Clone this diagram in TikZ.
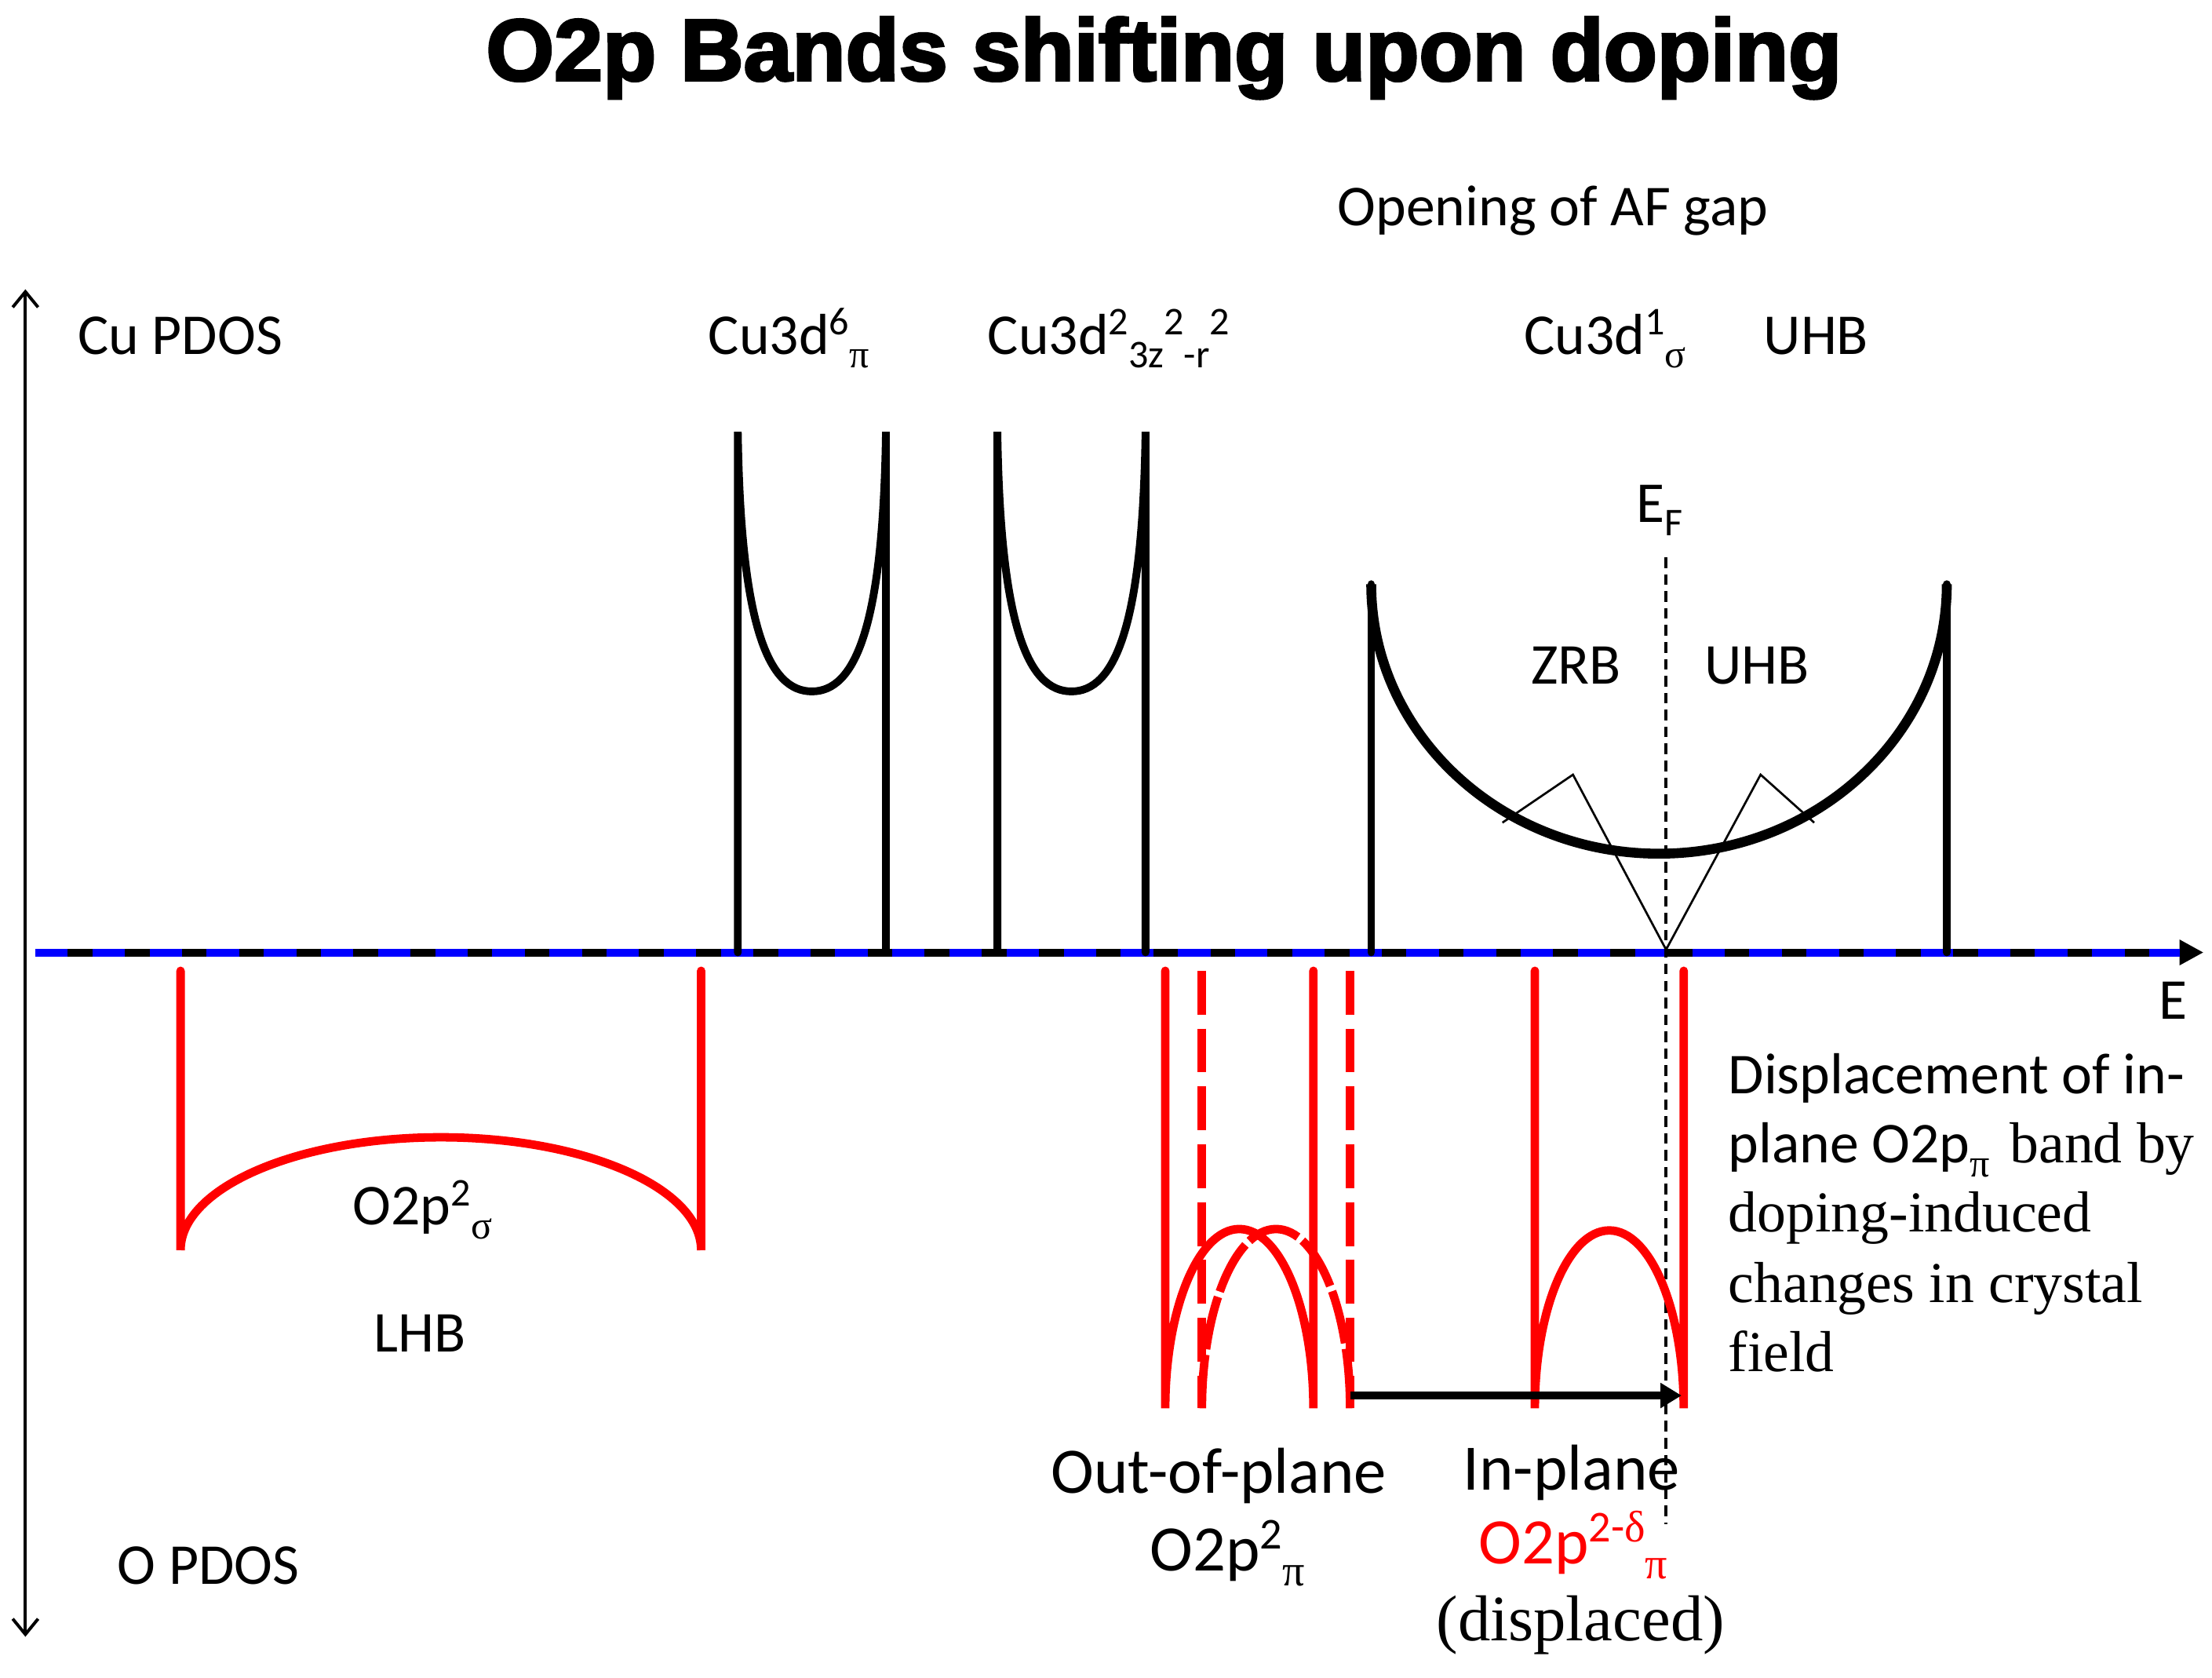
\documentclass[tikz,border=0pt]{standalone}
\usepackage{fontspec}
\setmainfont{Carlito}
\newfontfamily\tnr{Liberation Serif}
\newfontfamily\blackfont{Liberation Sans Bold}[FakeBold=3]
\usetikzlibrary{arrows.meta}
\makeatletter
\newcommand{\hi}[1]{\raisebox{0.33em}{\fontsize{\fpeval{0.68*\f@size}}{0}\selectfont #1}}
\newcommand{\lo}[1]{\raisebox{-0.24em}{\fontsize{\fpeval{0.68*\f@size}}{0}\selectfont #1}}
\makeatother
\newcommand{\gr}[1]{{\tnr #1}}

\begin{document}
\begin{tikzpicture}[x=1pt,y=-1pt,
  txt/.style={font=\fontsize{41}{49}\selectfont,inner sep=0pt,anchor=base west},
  bigtxt/.style={font=\fontsize{46}{54}\selectfont,inner sep=0pt,anchor=base west},
  romantxt/.style={font=\tnr\fontsize{41}{49}\selectfont,inner sep=0pt,anchor=base west},
  cuband/.style={line width=5.5pt,line cap=round},
  oband/.style={red,line width=6pt,line cap=round},
  odash/.style={red,line width=6pt,dash pattern=on 31pt off 10pt}]
\useasboundingbox (0,0) rectangle (1568,1189);
\node (title) [anchor=base,inner sep=0pt,font=\blackfont\fontsize{62}{70}\selectfont] at (825,57) {O2p Bands shifting upon doping};
% axes
\coordinate (vtop) at (18,205);
\coordinate (vbot) at (18,1160);
\coordinate (eleft) at (25,675);
\coordinate (eright) at (1562,675);
\coordinate (ebase) at (1545,675);
\draw[line width=2.2pt,{Straight Barb[length=11pt,width=18pt]}-{Straight Barb[length=11pt,width=18pt]}] (vbot) -- (vtop);
\draw[line width=5.5pt,-{Triangle[length=17pt,width=17pt]}] (eleft) -- (eright);
\draw[blue,line width=5.5pt,dash pattern=on 23pt off 17.5pt] (eleft) -- (ebase);
% Cu bands
\foreach \a in {523,707}
  \draw[cuband] (\a,675) -- (\a,306) .. controls (\a+2,445) and (\a+22,490) .. (\a+52.5,490)
    .. controls (\a+83,490) and (\a+103,445) .. (\a+105,306) -- (\a+105,675);
\draw[cuband] (972,675) -- (972,414);
\draw[cuband] (1380,675) -- (1380,414);
\draw[line width=7pt] (972,414) arc[start angle=180,end angle=360,x radius=204pt,y radius=191pt];
\draw[line width=1.5pt] (1065,583) -- (1115,549) -- (1181,673) -- (1248,549) -- (1286,583);
\coordinate (eftop) at (1181,395);
\coordinate (efbot) at (1181,1080);
\draw[line width=2.2pt,dash pattern=on 7.5pt off 4.5pt] (eftop) -- (efbot);
% O bands
\draw[oband] (128,688) -- (128,886) arc[start angle=180,end angle=0,x radius=184.5pt,y radius=80pt] -- (497,688);
\draw[oband] (826,688) -- (826,998) arc[start angle=180,end angle=0,x radius=52.5pt,y radius=127pt] -- (931,688);
\draw[odash] (852,688) -- (852,998);
\draw[odash] (957,688) -- (957,998);
\draw[red,line width=6pt,dash pattern=on 38pt off 4pt] (852,998) arc[start angle=180,end angle=0,x radius=52.5pt,y radius=127pt];
\draw[oband] (1088,688) -- (1088,998) arc[start angle=180,end angle=0,x radius=52.75pt,y radius=126pt] -- (1193.5,688);
\coordinate (shiftfrom) at (957,989);
\coordinate (shiftto) at (1192,989);
\draw[line width=6pt,-{Triangle[length=15pt,width=17pt]}] (shiftfrom) -- (shiftto);
% labels
\node (cupdos) [txt] at (55,251) {Cu PDOS};
\node (opdos) [txt] at (83,1123) {O PDOS};
\node (afgap) [txt] at (948,160) {Opening of AF gap};
\node (dpi) [txt] at (502,251) {Cu3d\hi{6}\lo{\gr{π}}};
\node (dz) [txt] at (700,251) {Cu3d\hi{2}\lo{3z}\hi{2}\lo{-r}\hi{2}};
\node (dsig) [txt] at (1080,251) {Cu3d\hi{1}\lo{\gr{σ}}};
\node (uhbtop) [txt] at (1250,251) {UHB};
\node (ef) [txt] at (1160,370) {E\lo{F}};
\node (zrb) [txt] at (1085,485) {ZRB};
\node (uhb) [txt] at (1208,485) {UHB};
\node (elab) [txt] at (1530,722) {E};
\node (psig) [txt] at (250,868) {O2p\hi{2}\lo{\gr{σ}}};
\node (lhb) [txt] at (265,958) {LHB};
\node (outp) [bigtxt] at (745,1058) {Out-of-plane};
\node (ppi) [bigtxt] at (815,1113) {O2p\hi{2}\lo{\gr{π}}};
\node (inp) [bigtxt] at (1037,1056) {In-plane};
\node (pdelta) [bigtxt,red] at (1048,1108) {O2p\hi{2-\gr{δ}}\lo{\gr{π}}};
\node (disp) [bigtxt,font=\tnr\fontsize{46}{54}\selectfont] at (1018,1163) {(displaced)};
\node (note1) [txt] at (1225,775) {Displacement of in-};
\node (note2) [txt] at (1225,824) {plane O2p\lo{\gr{π}}\hspace{0.12em} {\tnr band by}};
\node (note3) [romantxt] at (1225,873) {doping-induced};
\node (note4) [romantxt] at (1225,923) {changes in crystal};
\node (note5) [romantxt] at (1225,972) {field};
\end{tikzpicture}
\end{document}
